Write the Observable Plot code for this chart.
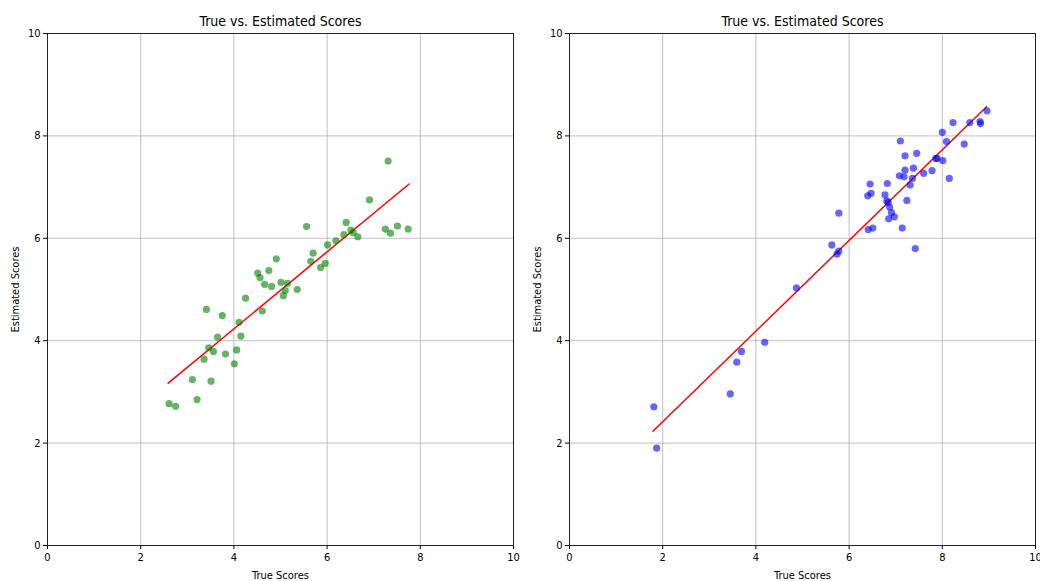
<!DOCTYPE html>
<html>
<head>
<meta charset="utf-8">
<script src="https://cdn.jsdelivr.net/npm/d3@7"></script>
<script src="https://cdn.jsdelivr.net/npm/@observablehq/plot@0.6"></script>
<style>
  html, body { margin: 0; padding: 0; background: #fff; }
  #wrap { display: flex; width: 1040px; height: 581px; overflow: hidden; }
  svg { font-family: "DejaVu Sans Condensed", "DejaVu Sans", sans-serif; overflow: visible; }
</style>
</head>
<body>
<div id="wrap"></div>
<script>
const titleText = "True vs. Estimated Scores";
const xLabel = "True Scores";
const yLabel = "Estimated Scores";
const tickValues = [0, 2, 4, 6, 8, 10];

// Left panel (green)
const leftTrue = [2.61, 2.75, 3.11, 3.21, 3.51, 3.36, 3.46, 3.56, 3.41, 3.75, 3.65, 3.82, 4.01, 4.06, 4.15, 4.11, 4.25, 4.61, 4.51, 4.56, 4.66, 4.75, 4.81, 4.91, 5.01, 5.15, 5.10, 5.06, 5.36, 5.56, 5.65, 5.70, 5.86, 5.96, 6.01, 6.19, 6.36, 6.41, 6.51, 6.56, 6.66, 6.91, 7.25, 7.36, 7.31, 7.51, 7.74];
const leftEst  = [2.77, 2.72, 3.24, 2.85, 3.21, 3.64, 3.86, 3.79, 4.61, 4.49, 4.07, 3.74, 3.55, 3.82, 4.09, 4.36, 4.83, 4.58, 5.32, 5.23, 5.10, 5.37, 5.06, 5.60, 5.14, 5.12, 4.98, 4.88, 5.00, 6.23, 5.55, 5.71, 5.43, 5.51, 5.87, 5.95, 6.07, 6.31, 6.16, 6.11, 6.03, 6.75, 6.18, 6.10, 7.51, 6.24, 6.18];
const leftFitX = [2.59, 7.76];
const leftFitY = [3.17, 7.06];

// Right panel (blue)
const rightTrue = [1.81, 1.87, 3.45, 3.59, 3.69, 4.19, 4.87, 5.63, 5.74, 5.78, 5.78, 6.41, 6.51, 6.40, 6.47, 6.45, 6.77, 6.82, 6.81, 6.84, 6.87, 6.91, 6.85, 6.97, 7.14, 7.24, 7.31, 7.36, 7.08, 7.18, 7.20, 7.38, 7.20, 7.10, 7.45, 7.42, 7.60, 7.78, 7.86, 7.89, 8.01, 8.15, 8.00, 8.09, 8.47, 8.23, 8.59, 8.81, 8.82, 8.96];
const rightEst  = [2.71, 1.90, 2.96, 3.58, 3.79, 3.97, 5.03, 5.87, 5.69, 5.75, 6.49, 6.17, 6.20, 6.83, 6.88, 7.06, 6.85, 7.07, 6.73, 6.70, 6.61, 6.50, 6.38, 6.42, 6.20, 6.74, 7.04, 7.17, 7.22, 7.20, 7.33, 7.37, 7.61, 7.90, 7.66, 5.80, 7.27, 7.32, 7.56, 7.56, 7.52, 7.17, 8.07, 7.89, 7.84, 8.26, 8.26, 8.28, 8.24, 8.49];
const rightFitX = [1.79, 8.95];
const rightFitY = [2.23, 8.57];

function panel(xs, ys, fx, fy, color, mLeft, mRight) {
  const pts = xs.map((x, i) => ({x, y: ys[i]}));
  const fit = fx.map((x, i) => ({x, y: fy[i]}));
  return Plot.plot({
    width: 520,
    height: 581,
    marginLeft: mLeft,
    marginRight: mRight,
    marginTop: 33,
    marginBottom: 36,
    style: {fontFamily: '"DejaVu Sans Condensed", "DejaVu Sans", sans-serif', fontSize: "11px", color: "#000", background: "#fff", overflow: "visible"},
    x: {domain: [0, 10]},
    y: {domain: [0, 10]},
    marks: [
      Plot.gridX(tickValues, {stroke: "#b0b0b0", strokeOpacity: 1, strokeWidth: 0.8}),
      Plot.gridY(tickValues, {stroke: "#b0b0b0", strokeOpacity: 1, strokeWidth: 0.8}),
      Plot.axisX(tickValues, {tickSize: 4, tickPadding: 4, fontSize: 11, tickFormat: d => String(d), label: xLabel, labelAnchor: "center", labelArrow: "none", labelOffset: 33}),
      Plot.axisY(tickValues, {tickSize: 4, tickPadding: 3, fontSize: 11, tickFormat: d => String(d), label: yLabel, labelAnchor: "center", labelArrow: "none", labelOffset: 36}),
      Plot.line(fit, {x: "x", y: "y", stroke: "red", strokeWidth: 1.5}),
      Plot.dot(pts, {x: "x", y: "y", r: 3.6, fill: color, fillOpacity: 0.6, stroke: "none"}),
      Plot.frame({stroke: "#222", strokeWidth: 1}),
      Plot.text([titleText], {frameAnchor: "top", lineAnchor: "middle", dy: -12, fontSize: 14, fill: "#000"})
    ]
  });
}

const wrap = document.getElementById("wrap");
wrap.append(panel(leftTrue, leftEst, leftFitX, leftFitY, "green", 47, 7));
wrap.append(panel(rightTrue, rightEst, rightFitX, rightFitY, "blue", 49, 5));
</script>
</body>
</html>
